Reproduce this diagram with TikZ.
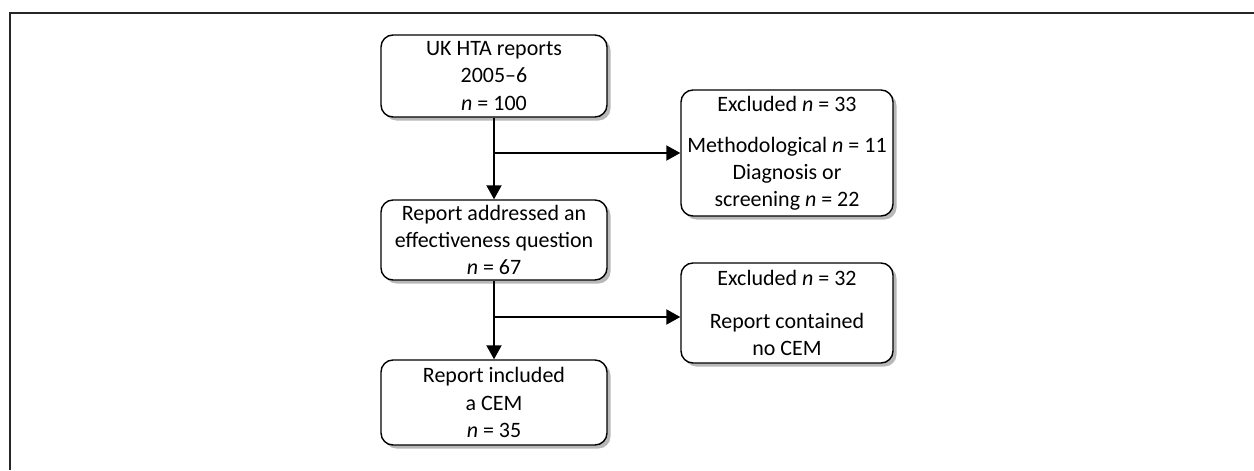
\documentclass[tikz,border=0pt]{standalone}
\usepackage{fontspec}
\setmainfont{Carlito}
\usepackage{tikz}
\usetikzlibrary{arrows.meta,positioning,shadows}

\begin{document}
\begin{tikzpicture}[
    box/.style={draw, rounded corners=0.24cm, line width=0.8pt, fill=white,
                align=center, inner sep=0pt,
                font=\fontsize{12.5}{15.4}\selectfont,
                drop shadow={shadow xshift=0.07cm, shadow yshift=-0.07cm,
                             fill=black!28, opacity=1}},
    arr/.style={-{Triangle[length=0.28cm, width=0.3cm]}, line width=1.1pt}
  ]
  \useasboundingbox (0,0) rectangle (25.08,9.4);
  % Frame
  \draw[line width=1.1pt, black!85] (0.2,0) -- (0.2,9.14) -- (25.08,9.14);
  % Main column
  \node[box, minimum width=4.52cm, minimum height=1.64cm] (hta) at (9.88, 7.88)
    {UK HTA reports\\ 2005--6\\ \textit{n} = 100};
  \node[box, minimum width=4.52cm, minimum height=1.6cm] (eff) at (9.88, 4.6)
    {Report addressed an\\ effectiveness question\\ \textit{n} = 67};
  \node[box, minimum width=4.52cm, minimum height=1.7cm] (cem) at (9.88, 1.35)
    {Report included\\ a CEM\\ \textit{n} = 35};
  % Exclusion boxes
  \node[box, minimum width=4.24cm, minimum height=2.52cm] (exA) at (15.74, 6.34)
    {Excluded \textit{n} = 33\\[0.28cm] Methodological \textit{n} = 11\\ Diagnosis or\\ screening \textit{n} = 22};
  \node[box, minimum width=4.24cm, minimum height=2.0cm] (exB) at (15.74, 3.14)
    {Excluded \textit{n} = 32\\[0.3cm] Report contained\\ no CEM};
  % Connectors
  \draw[arr] (hta.south) -- (eff.north);
  \draw[arr] (eff.south) -- (cem.north);
  \coordinate (brA) at (hta.south |- exA.west);
  \coordinate (brB) at (eff.south |- 0,3.06);
  \draw[arr] (brA) -- (exA.west);
  \draw[arr] (brB) -- (brB -| exB.west);
\end{tikzpicture}
\end{document}
